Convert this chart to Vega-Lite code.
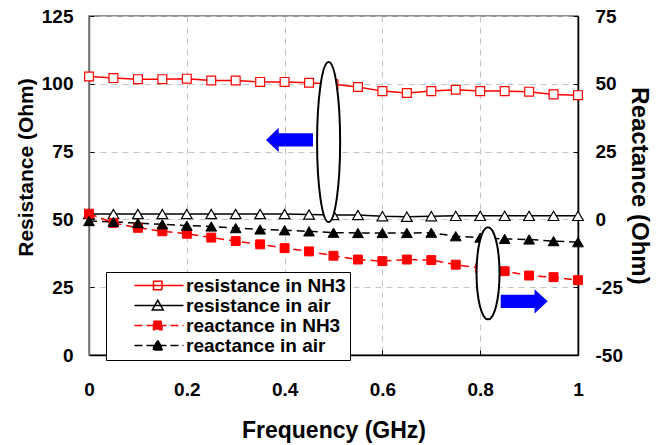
{
  "$schema": "https://vega.github.io/schema/vega-lite/v6.json",
  "width": 489,
  "height": 339,
  "autosize": "none",
  "padding": {"left": 89, "top": 16, "right": 83, "bottom": 90},
  "background": "white",
  "config": {
    "view": {"stroke": "#707070", "strokeWidth": 1.5},
    "font": "Liberation Sans",
    "axis": {
      "labelFont": "Liberation Sans", "labelFontWeight": "bold", "labelFontSize": 19, "labelColor": "black",
      "titleFont": "Liberation Sans", "titleFontWeight": "bold", "titleColor": "black",
      "tickSize": -5, "tickColor": "black", "tickWidth": 1,
      "gridColor": "#c4c4c4", "gridDash": [6, 5], "gridWidth": 1,
      "domainColor": "black", "domainWidth": 1.5,
      "labelFlush": false, "labelOverlap": false
    }
  },
  "datasets": {
    "resistance": [
      {"f": 0.00, "series": "resistance in NH3", "value": 102.7},
      {"f": 0.05, "series": "resistance in NH3", "value": 102.1},
      {"f": 0.10, "series": "resistance in NH3", "value": 101.7},
      {"f": 0.15, "series": "resistance in NH3", "value": 101.7},
      {"f": 0.20, "series": "resistance in NH3", "value": 101.9},
      {"f": 0.25, "series": "resistance in NH3", "value": 101.2},
      {"f": 0.30, "series": "resistance in NH3", "value": 101.2},
      {"f": 0.35, "series": "resistance in NH3", "value": 100.7},
      {"f": 0.40, "series": "resistance in NH3", "value": 100.7},
      {"f": 0.45, "series": "resistance in NH3", "value": 100.4},
      {"f": 0.50, "series": "resistance in NH3", "value": 99.8},
      {"f": 0.55, "series": "resistance in NH3", "value": 98.8},
      {"f": 0.60, "series": "resistance in NH3", "value": 97.3},
      {"f": 0.65, "series": "resistance in NH3", "value": 96.6},
      {"f": 0.70, "series": "resistance in NH3", "value": 97.3},
      {"f": 0.75, "series": "resistance in NH3", "value": 97.8},
      {"f": 0.80, "series": "resistance in NH3", "value": 97.3},
      {"f": 0.85, "series": "resistance in NH3", "value": 97.3},
      {"f": 0.90, "series": "resistance in NH3", "value": 97.1},
      {"f": 0.95, "series": "resistance in NH3", "value": 96.1},
      {"f": 1.00, "series": "resistance in NH3", "value": 95.8},
      {"f": 0.00, "series": "resistance in air", "value": 52.0},
      {"f": 0.05, "series": "resistance in air", "value": 52.0},
      {"f": 0.10, "series": "resistance in air", "value": 52.0},
      {"f": 0.15, "series": "resistance in air", "value": 52.0},
      {"f": 0.20, "series": "resistance in air", "value": 52.0},
      {"f": 0.25, "series": "resistance in air", "value": 52.0},
      {"f": 0.30, "series": "resistance in air", "value": 52.0},
      {"f": 0.35, "series": "resistance in air", "value": 52.0},
      {"f": 0.40, "series": "resistance in air", "value": 52.0},
      {"f": 0.45, "series": "resistance in air", "value": 51.8},
      {"f": 0.50, "series": "resistance in air", "value": 51.6},
      {"f": 0.55, "series": "resistance in air", "value": 51.6},
      {"f": 0.60, "series": "resistance in air", "value": 51.2},
      {"f": 0.65, "series": "resistance in air", "value": 51.0},
      {"f": 0.70, "series": "resistance in air", "value": 51.2},
      {"f": 0.75, "series": "resistance in air", "value": 51.3},
      {"f": 0.80, "series": "resistance in air", "value": 51.3},
      {"f": 0.85, "series": "resistance in air", "value": 51.3},
      {"f": 0.90, "series": "resistance in air", "value": 51.3},
      {"f": 0.95, "series": "resistance in air", "value": 51.3},
      {"f": 1.00, "series": "resistance in air", "value": 51.3}
    ],
    "reactance": [
      {"f": 0.00, "series": "reactance in NH3", "value": 2.1},
      {"f": 0.05, "series": "reactance in NH3", "value": -1.3},
      {"f": 0.10, "series": "reactance in NH3", "value": -3.1},
      {"f": 0.15, "series": "reactance in NH3", "value": -4.4},
      {"f": 0.20, "series": "reactance in NH3", "value": -5.3},
      {"f": 0.25, "series": "reactance in NH3", "value": -6.7},
      {"f": 0.30, "series": "reactance in NH3", "value": -8.0},
      {"f": 0.35, "series": "reactance in NH3", "value": -9.2},
      {"f": 0.40, "series": "reactance in NH3", "value": -10.6},
      {"f": 0.45, "series": "reactance in NH3", "value": -11.8},
      {"f": 0.50, "series": "reactance in NH3", "value": -13.4},
      {"f": 0.55, "series": "reactance in NH3", "value": -14.8},
      {"f": 0.60, "series": "reactance in NH3", "value": -15.4},
      {"f": 0.65, "series": "reactance in NH3", "value": -14.8},
      {"f": 0.70, "series": "reactance in NH3", "value": -15.0},
      {"f": 0.75, "series": "reactance in NH3", "value": -16.7},
      {"f": 0.80, "series": "reactance in NH3", "value": -18.0},
      {"f": 0.85, "series": "reactance in NH3", "value": -19.1},
      {"f": 0.90, "series": "reactance in NH3", "value": -20.7},
      {"f": 0.95, "series": "reactance in NH3", "value": -21.3},
      {"f": 1.00, "series": "reactance in NH3", "value": -22.4},
      {"f": 0.00, "series": "reactance in air", "value": -0.6},
      {"f": 0.05, "series": "reactance in air", "value": -0.9},
      {"f": 0.10, "series": "reactance in air", "value": -1.4},
      {"f": 0.15, "series": "reactance in air", "value": -1.8},
      {"f": 0.20, "series": "reactance in air", "value": -2.3},
      {"f": 0.25, "series": "reactance in air", "value": -2.6},
      {"f": 0.30, "series": "reactance in air", "value": -3.2},
      {"f": 0.35, "series": "reactance in air", "value": -3.7},
      {"f": 0.40, "series": "reactance in air", "value": -4.0},
      {"f": 0.45, "series": "reactance in air", "value": -4.4},
      {"f": 0.50, "series": "reactance in air", "value": -4.9},
      {"f": 0.55, "series": "reactance in air", "value": -5.0},
      {"f": 0.60, "series": "reactance in air", "value": -5.0},
      {"f": 0.65, "series": "reactance in air", "value": -5.0},
      {"f": 0.70, "series": "reactance in air", "value": -4.9},
      {"f": 0.75, "series": "reactance in air", "value": -6.2},
      {"f": 0.80, "series": "reactance in air", "value": -6.7},
      {"f": 0.85, "series": "reactance in air", "value": -7.2},
      {"f": 0.90, "series": "reactance in air", "value": -7.4},
      {"f": 0.95, "series": "reactance in air", "value": -8.0},
      {"f": 1.00, "series": "reactance in air", "value": -8.4}
    ],
    "ellipses": [
      {"f": 0.49, "value": 28.5, "note": "left ellipse"},
      {"f": 0.816, "value": -19.9, "note": "right ellipse"}
    ],
    "arrowLeft": [{"f": 0.41, "value": 29.3}],
    "arrowRight": [{"f": 0.89, "value": -30.2}]
  },
  "layer": [
    {
      "data": {"name": "resistance"},
      "encoding": {
        "x": {
          "field": "f", "type": "quantitative",
          "scale": {"domain": [0, 1], "nice": false, "zero": false},
          "axis": {
            "values": [0, 0.2, 0.4, 0.6, 0.8, 1],
            "labelExpr": "toString(datum.value)",
            "title": "Frequency (GHz)", "titleFontSize": 23,
            "labelPadding": 30, "titlePadding": 20, "grid": true
          }
        },
        "y": {
          "field": "value", "type": "quantitative",
          "scale": {"domain": [0, 125], "nice": false},
          "axis": {
            "orient": "left", "values": [0, 25, 50, 75, 100, 125],
            "labelExpr": "toString(datum.value)",
            "title": "Resistance (Ohm)", "titleFontSize": 21,
            "titleY": 151,
            "labelPadding": 21, "titlePadding": 5, "grid": true,
            "domainColor": "#707070"
          }
        },
        "stroke": {
          "field": "series", "type": "nominal",
          "scale": {
            "domain": ["resistance in NH3", "resistance in air", "reactance in NH3", "reactance in air"],
            "range": ["#ff0000", "#000000", "#ff0000", "#000000"]
          },
          "legend": {
            "title": null,
            "orient": "none", "legendX": 17, "legendY": 256,
            "direction": "vertical",
            "padding": 4,
            "strokeColor": "black", "fillColor": "white",
            "labelFont": "Liberation Sans", "labelFontWeight": "bold", "labelFontSize": 19, "labelColor": "black",
            "labelOffset": 57,
            "symbolSize": 100, "symbolStrokeWidth": 1.5,
            "rowPadding": 0,
            "encode": {
              "symbols": {
                "update": {
                  "shape": {"signal": "(datum.value == 'resistance in NH3' || datum.value == 'reactance in NH3') ? 'M3,0L12.8,0M6.8,-0.85L8.5,-0.85L8.5,0.85L6.8,0.85Z' : 'M3,0L12.8,0M7.65,-1.05L8.75,0.9L6.55,0.9Z'"},
                  "fill": {"signal": "datum.value == 'reactance in NH3' ? '#ff0000' : (datum.value == 'reactance in air' ? '#000000' : '#ffffff')"},
                  "strokeDash": {"signal": "(datum.value == 'reactance in NH3' || datum.value == 'reactance in air') ? [8, 4] : [1, 0]"},
                  "opacity": {"value": 1}
                }
              }
            }
          }
        }
      },
      "layer": [
        {"mark": {"type": "line", "strokeWidth": 1.5}},
        {
          "transform": [{"filter": "datum.series == 'resistance in NH3'"}],
          "mark": {"type": "point", "shape": "square", "size": 78, "filled": false, "fill": "white", "strokeWidth": 1.2, "opacity": 1}
        },
        {
          "transform": [{"filter": "datum.series == 'resistance in air'"}],
          "mark": {"type": "point", "shape": "triangle-up", "size": 115, "filled": false, "fill": "white", "strokeWidth": 1.2, "opacity": 1}
        }
      ]
    },
    {
      "data": {"name": "reactance"},
      "encoding": {
        "x": {"field": "f", "type": "quantitative"},
        "y": {
          "field": "value", "type": "quantitative",
          "scale": {"domain": [-50, 75], "nice": false, "zero": false},
          "axis": {
            "orient": "right", "values": [-50, -25, 0, 25, 50, 75],
            "labelExpr": "toString(datum.value)",
            "title": "Reactance (Ohm)", "titleFontSize": 24,
            "labelPadding": 22, "titlePadding": 4, "grid": false
          }
        },
        "stroke": {"field": "series", "type": "nominal"}
      },
      "layer": [
        {"mark": {"type": "line", "strokeWidth": 1.5, "strokeDash": [8, 5]}},
        {
          "transform": [{"filter": "datum.series == 'reactance in NH3'"}],
          "mark": {"type": "point", "shape": "square", "size": 80, "filled": true, "fill": "#ff0000", "strokeWidth": 1, "opacity": 1}
        },
        {
          "transform": [{"filter": "datum.series == 'reactance in air'"}],
          "mark": {"type": "point", "shape": "triangle-up", "size": 115, "filled": true, "fill": "#000000", "strokeWidth": 1, "opacity": 1}
        },
        {
          "data": {"name": "ellipses"},
          "transform": [{"filter": "datum.note == 'left ellipse'"}],
          "mark": {"type": "point", "shape": "M0,-1A0.144,1 0 1,1 0,1A0.144,1 0 1,1 0,-1Z", "size": 25600, "filled": true, "fill": "white", "strokeWidth": 2, "opacity": 1},
          "encoding": {"stroke": {"value": "black"}}
        },
        {
          "data": {"name": "ellipses"},
          "transform": [{"filter": "datum.note == 'right ellipse'"}],
          "mark": {"type": "point", "shape": "M0,-1A0.25,1 0 1,1 0,1A0.25,1 0 1,1 0,-1Z", "size": 8464, "filled": true, "fill": "white", "strokeWidth": 2, "opacity": 1},
          "encoding": {"stroke": {"value": "black"}}
        },
        {
          "data": {"name": "arrowLeft"},
          "mark": {"type": "point", "shape": "M-1,0L-0.46,-0.515L-0.46,-0.28L1,-0.28L1,0.28L-0.46,0.28L-0.46,0.515Z", "size": 2209, "filled": true, "fill": "#0000ff", "strokeWidth": 0, "opacity": 1},
          "encoding": {"stroke": {"value": "#0000ff"}}
        },
        {
          "data": {"name": "arrowRight"},
          "mark": {"type": "point", "shape": "M1,0L0.44,-0.515L0.44,-0.28L-1,-0.28L-1,0.28L0.44,0.28L0.44,0.515Z", "size": 2209, "filled": true, "fill": "#0000ff", "strokeWidth": 0, "opacity": 1},
          "encoding": {"stroke": {"value": "#0000ff"}}
        }
      ]
    }
  ],
  "resolve": {"scale": {"y": "independent"}}
}
